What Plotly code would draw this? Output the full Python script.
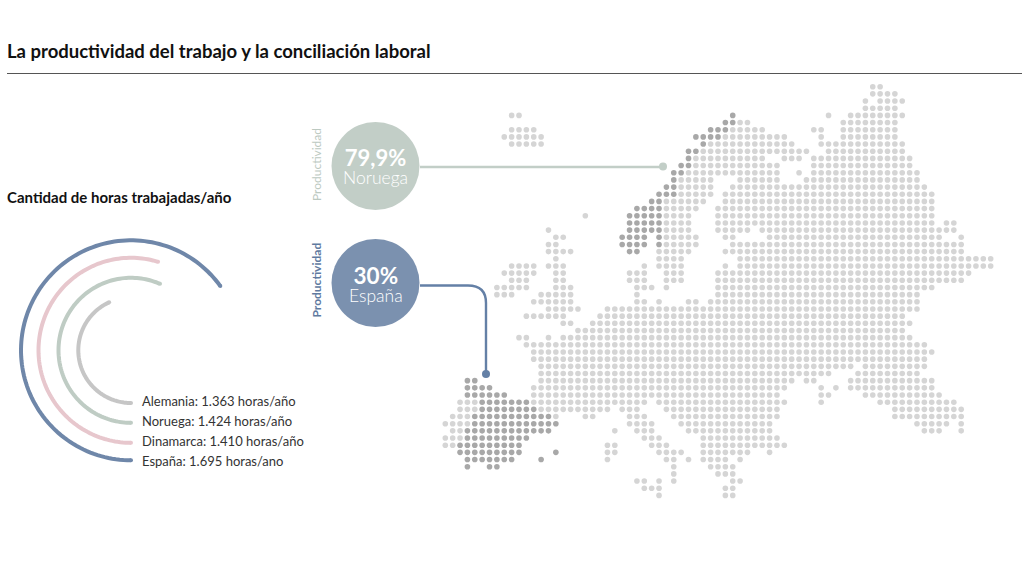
import numpy as np
import plotly.graph_objects as go

# Dot map of Europe: row -> column ranges on the dot grid
light_rows = {
    0: "58-59", 1: "58-61", 2: "57,59-62", 3: "57-61",
    4: "9-10,52,55-62", 5: "40-41,54-61", 6: "9-12,39-43,50-51,54-61",
    7: "8-13,38-46,51,54-61", 8: "9-13,36-47,51-62", 9: "35-49,52-62",
    10: "34-43,46-48,50-63", 11: "34-45,50-63", 12: "33-45,48,50-64",
    13: "32-36,40-45,49-64", 14: "32-36,39-65", 15: "32-36,38-66",
    16: "30-35,38-66", 17: "30-34,37-66", 18: "19,30-33,37-66",
    19: "30-33,37-66,68-69", 20: "14,30-33,37-41,43-69",
    21: "15-16,30-34,38-39,44-67,70", 22: "14-15,30-34,39-70",
    23: "14-17,29-33,38-70", 24: "15,29-32,40-74",
    25: "9-12,14-16,27,29-32,38,40-74", 26: "8-12,15-16,25-27,30-32,37-71",
    27: "9-11,15-16,25-27,30-32,37-70", 28: "7-11,15-17,26-28,30,37-66",
    29: "7-9,13-17,26,37-64", 30: "12-17,26-27,29,33-34,36-64",
    31: "14-18,22-64", 32: "11-16,21-62", 33: "16-17,20-63", 34: "18-62",
    35: "10-11,14,16-63", 36: "11-65", 37: "12-66", 38: "12-65",
    39: "13-55,57-65", 40: "13-52,56-64", 41: "13-47,49-50,55-66",
    42: "12-46,51,53,55-66", 43: "12-45,51-52,57-67",
    44: "2-4,12-27,29-46,51,59-69", 45: "2-4,13-22,24-26,30-45,61-70",
    46: "1-3,15,19-20,25-27,31-45,61-70", 47: "0-3,25-28,32-44,64-68,70",
    48: "1-2,23,26-28,33-44,65-67,70", 49: "0-2,27-29,35-45",
    50: "0-1,22-23,28-30,35-46", 51: "22-23,29-32,35-41,44",
    52: "22,30-31,33,35-38,40", 53: "31,36-39", 54: "31,37-39",
    55: "26-27,29,31,39-40", 56: "27-29,38-39", 57: "29,38-39",
}
dark_rows = {
    4: "39", 5: "38-39", 6: "36-38", 7: "34-37", 8: "35", 9: "33-34",
    10: "33", 11: "32-33", 12: "31-32", 13: "31", 14: "30-31", 15: "29-31",
    16: "28-29", 17: "26-29", 18: "25-29", 19: "25-29", 20: "25-29",
    21: "24-27,29", 22: "24-27,29", 23: "25-26",
    41: "3-4", 42: "3-6", 43: "3-8", 44: "5-11", 45: "5-12", 46: "4-14",
    47: "4-15", 48: "3-14", 49: "3-11", 50: "2-10", 51: "2-10,15",
    52: "3-9,13", 53: "3,6-7",
}

# Worked hours arcs, outermost first
countries = ["España", "Dinamarca", "Noruega", "Alemania"]
hour_labels = ["España: 1.695 horas/ano", "Dinamarca: 1.410 horas/año",
               "Noruega: 1.424 horas/año", "Alemania: 1.363 horas/año"]
arc_sweep = [234.3, 197, 203.6, 155.5]
arc_radius = [110, 92.5, 72.5, 52.7]
arc_colors = ["#6f87a9", "#e7c7cd", "#bfccc4", "#c6c6c6"]

font_name = "Lato"
spain_blue = "#7b91af"
norway_green = "#c2cec7"


def expand(rows):
    xs, ys = [], []
    for row, spec in rows.items():
        for part in spec.split(","):
            a, _, b = part.partition("-")
            for col in range(int(a), int(b or a) + 1):
                xs.append(col)
                ys.append(row)
    return xs, ys


fig = go.Figure()

# Map, drawn on its own axes in grid units
for rows, color in [(light_rows, "#d5d5d5"), (dark_rows, "#a8a8a8")]:
    xs, ys = expand(rows)
    fig.add_trace(go.Scatter(x=xs, y=ys, xaxis="x2", yaxis="y2", mode="markers",
                             marker=dict(size=5.6, color=color), hoverinfo="skip"))

# Arcs, theta 0 at the bottom going clockwise
for sweep, radius, color in zip(arc_sweep, arc_radius, arc_colors):
    theta = np.linspace(0, sweep, 120)
    fig.add_trace(go.Scatterpolar(theta=theta, r=[radius] * len(theta), mode="lines",
                                  line=dict(color=color, width=4), hoverinfo="skip"))
    fig.add_trace(go.Scatterpolar(theta=[0, sweep], r=[radius, radius], mode="markers",
                                  marker=dict(color=color, size=4), hoverinfo="skip"))


def text(x, y, s, size, color="#222222", weight=400, anchor="center", angle=0):
    fig.add_annotation(x=x, y=y, xref="x", yref="y", text=s, showarrow=False,
                       xanchor=anchor, yanchor="middle", textangle=angle, borderpad=0, borderwidth=0,
                       font=dict(family=font_name, size=size, color=color, weight=weight))


def badge(y, value, country, value_size, name_size):
    s = (f'<span style="font-size:{value_size}px;font-weight:700">{value}</span><br>'
         f'<span style="font-size:{name_size}px">{country}</span>')
    text(375.5, y, s, 13.5, "white", 300)


text(6.5, 50.5, "La productividad del trabajo y la conciliación laboral", 18.5, "#111111", 700, "left")
text(6.5, 196.5, "Cantidad de horas trabajadas/año", 15, "#111111", 700, "left")
for label, y in zip(hour_labels, [461, 441, 421, 401]):
    text(141.5, y, label, 13, "#333333", 400, "left")

badge(166, "79,9%", "Noruega", 22, 17.5)
badge(284, "30%", "España", 22.5, 17.5)
text(316, 165, "Productividad", 12, "#bcc9c1", 400, angle=-90)
text(316, 280.5, "Productividad", 12, "#5f7aa0", 700, angle=-90)

shapes = [
    dict(type="line", x0=7, x1=1022, y0=73.5, y1=73.5, line=dict(color="#555555", width=1)),
    dict(type="line", x0=420, x1=663, y0=167, y1=167, line=dict(color=norway_green, width=2.6)),
    dict(type="circle", x0=659, x1=667, y0=162.5, y1=170.5, fillcolor=norway_green, line_width=0),
    dict(type="circle", x0=331.5, x1=419.5, y0=122, y1=210, fillcolor=norway_green, line_width=0),
    dict(type="path", path="M 420 285.5 L 468 285.5 Q 486 285.5 486 303 L 486 374",
         line=dict(color="#6480a6", width=2.4)),
    dict(type="circle", x0=482, x1=490, y0=370, y1=378, fillcolor="#6480a6", line_width=0),
    dict(type="circle", x0=331.5, x1=419.5, y0=239, y1=327, fillcolor=spain_blue, line_width=0),
]
for s in shapes:
    s.update(xref="x", yref="y", layer="above" if s["type"] != "line" else "below")

hidden = dict(visible=False, showgrid=False, zeroline=False)
col_px, row_px = 7.37, 7.17
fig.update_layout(
    width=1024, height=562, showlegend=False, margin=dict(l=0, r=0, t=0, b=0),
    paper_bgcolor="white", plot_bgcolor="rgba(0,0,0,0)", shapes=shapes,
    xaxis=dict(range=[0, 1024], domain=[0, 1], **hidden),
    yaxis=dict(range=[562, 0], domain=[0, 1], **hidden),
    xaxis2=dict(range=[-445.3 / col_px, (1024 - 445.3) / col_px], domain=[0, 1], overlaying="x", **hidden),
    yaxis2=dict(range=[(562 - 86.7) / row_px, -86.7 / row_px], domain=[0, 1], overlaying="y", **hidden),
    polar=dict(
        domain=dict(x=[(131 - 120) / 1024, (131 + 120) / 1024],
                    y=[1 - (350.3 + 120) / 562, 1 - (350.3 - 120) / 562]),
        bgcolor="rgba(0,0,0,0)",
        radialaxis=dict(range=[0, 120], visible=False),
        angularaxis=dict(rotation=270, direction="clockwise", visible=False),
    ),
)

fig.write_html("out.html", config=dict(displayModeBar=False),
               post_script="document.body.style.margin='0';")
